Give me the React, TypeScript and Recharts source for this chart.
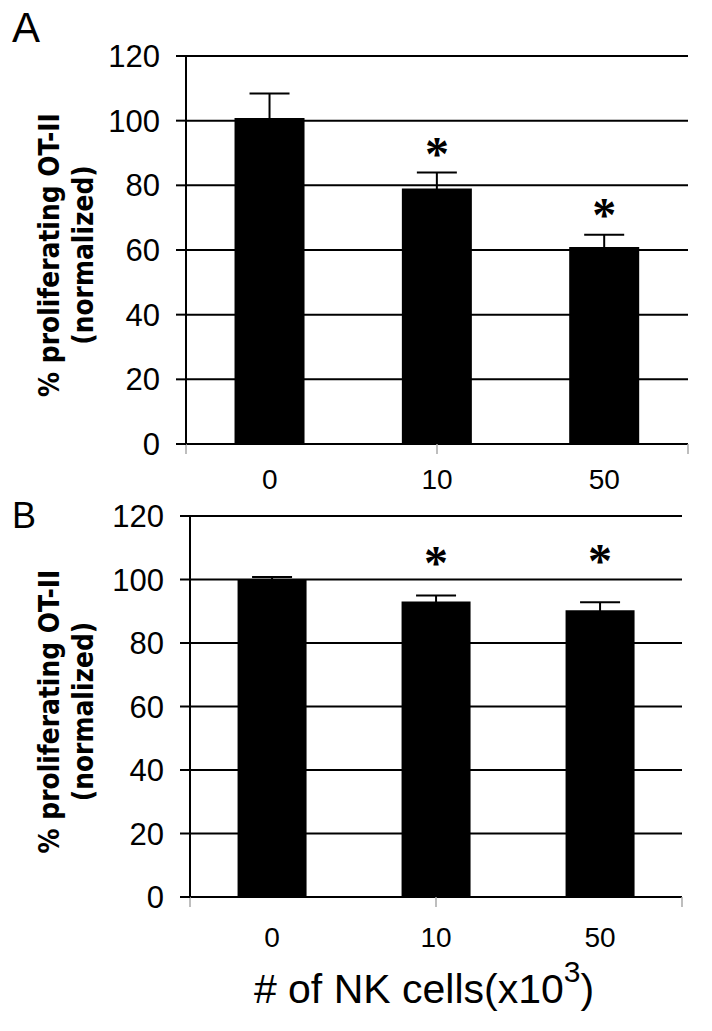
import React from "react";
import {
  ComposedChart,
  Bar,
  ErrorBar,
  Scatter,
  XAxis,
  YAxis,
  CartesianGrid,
  Label,
} from "recharts";

// values
const nkCells = ["0", "10", "50"];
const proliferationA = [100.8, 79, 60.9];
const errorA = [7.6, 5, 3.8];
const starA = [null, 92, 73];
const proliferationB = [100, 93.1, 90.3];
const errorB = [0.8, 1.9, 2.5];
const starB = [null, 107.5, 108];
const yTicks = [0, 20, 40, 60, 80, 100, 120];
const edgeTicks = [0, 1, 2, 3];

const buildRows = (vals: number[], errs: number[], stars: (number | null)[]) =>
  nkCells.map((name, i) => ({ name, value: vals[i], err: errs[i], star: stars[i] }));

const dataA = buildRows(proliferationA, errorA, starA);
const dataB = buildRows(proliferationB, errorB, starB);

const sans = "'Liberation Sans', Arial, sans-serif";

const Star = (props: any) => {
  const { cx, cy, payload } = props;
  if (payload == null || payload.star == null || cy == null || isNaN(cy)) return <g />;
  return (
    <text
      x={cx}
      y={cy + 23}
      textAnchor="middle"
      fontFamily="'Liberation Serif', 'Times New Roman', serif"
      fontWeight={700}
      fontSize={48}
      fill="#000"
    >
      *
    </text>
  );
};

const makeYLabel = (panel: string, letterSize: number, letterY: number) => (props: any) => {
  const vb = props.viewBox || {};
  const cy = vb.y + vb.height / 2 + 5;
  const bold = { fontFamily: "'DejaVu Sans', sans-serif", fontWeight: 700, fontSize: 25, fill: "#000" };
  return (
    <g>
      <text x={12} y={letterY} fontFamily={sans} fontSize={letterSize} fill="#000">
        {panel}
      </text>
      <text transform={`translate(59, ${cy}) rotate(-90) scale(1, 1.15)`} textAnchor="middle" {...bold}>
        % proliferating OT-II
      </text>
      <text transform={`translate(93, ${cy}) rotate(-90) scale(1, 1.15)`} textAnchor="middle" {...bold}>
        (normalized)
      </text>
    </g>
  );
};

const XLabel = (props: any) => {
  const vb = props.viewBox || {};
  const cx = vb.x + vb.width / 2 - 12;
  return (
    <text x={cx} y={vb.y + 94} textAnchor="middle" fontFamily={sans} fontSize={41} fill="#000">
      # of NK cells(x10
      <tspan fontSize={30} dy={-21}>3</tspan>
      <tspan dy={21}>)</tspan>
    </text>
  );
};

interface PanelProps {
  data: { name: string; value: number; err: number; star: number | null }[];
  height: number;
  margin: { top: number; right: number; bottom: number; left: number };
  yAxisWidth: number;
  catHeight: number;
  catTickMargin: number;
  panel: string;
  letterSize: number;
  letterY: number;
  withXLabel?: boolean;
}

function Panel({
  data,
  height,
  margin,
  yAxisWidth,
  catHeight,
  catTickMargin,
  panel,
  letterSize,
  letterY,
  withXLabel,
}: PanelProps) {
  return (
    <ComposedChart width={712} height={height} data={data} margin={margin} barCategoryGap="29%">
      <CartesianGrid horizontal vertical={false} stroke="#000" strokeWidth={2} />
      <XAxis
        xAxisId={0}
        type="number"
        domain={[0, 3]}
        ticks={edgeTicks}
        allowDataOverflow
        interval={0}
        tickFormatter={() => ""}
        tick={{ fontSize: 1 }}
        tickSize={10}
        tickLine={{ stroke: "#a8a8a8", strokeWidth: 1.5 }}
        axisLine={{ stroke: "#000", strokeWidth: 2 }}
        height={12}
      />
      <XAxis
        xAxisId="cat"
        dataKey="name"
        axisLine={false}
        tickLine={false}
        tickSize={0}
        tickMargin={catTickMargin}
        height={catHeight}
        tick={{ fill: "#000", fontFamily: sans, fontSize: 28 }}
      >
        {withXLabel ? <Label content={XLabel} /> : null}
      </XAxis>
      <YAxis
        domain={[0, 120]}
        ticks={yTicks}
        width={yAxisWidth}
        tickSize={10}
        tickMargin={16}
        axisLine={{ stroke: "#000", strokeWidth: 2 }}
        tickLine={{ stroke: "#000", strokeWidth: 2 }}
        tick={{ fill: "#000", fontFamily: sans, fontSize: 31 }}
        interval={0}
      >
        <Label content={makeYLabel(panel, letterSize, letterY)} />
      </YAxis>
      <YAxis
        yAxisId="r"
        orientation="right"
        domain={[0, 120]}
        width={0}
        tick={false}
        tickLine={false}
        axisLine={{ stroke: "#000", strokeWidth: 2 }}
      />
      <Bar dataKey="value" xAxisId="cat" fill="#000" isAnimationActive={false}>
        <ErrorBar dataKey="err" width={20} stroke="#000" strokeWidth={2} />
      </Bar>
      <Scatter dataKey="star" xAxisId="cat" shape={Star} isAnimationActive={false} />
    </ComposedChart>
  );
}

export default function App() {
  return (
    <div
      style={{
        position: "absolute",
        left: 0,
        top: 0,
        width: 712,
        height: 1031,
        background: "#fff",
      }}
    >
      <div style={{ position: "absolute", left: 0, top: 0 }}>
        <Panel
          data={dataA}
          height={500}
          margin={{ top: 56, right: 24, bottom: 0, left: 0 }}
          yAxisWidth={186}
          catHeight={44}
          catTickMargin={13}
          panel="A"
          letterSize={42}
          letterY={42}
        />
      </div>
      <div style={{ position: "absolute", left: 0, top: 480 }}>
        <Panel
          data={dataB}
          height={551}
          margin={{ top: 36, right: 30, bottom: 0, left: 0 }}
          yAxisWidth={190}
          catHeight={122}
          catTickMargin={18}
          panel="B"
          letterSize={36}
          letterY={48}
          withXLabel
        />
      </div>
    </div>
  );
}
